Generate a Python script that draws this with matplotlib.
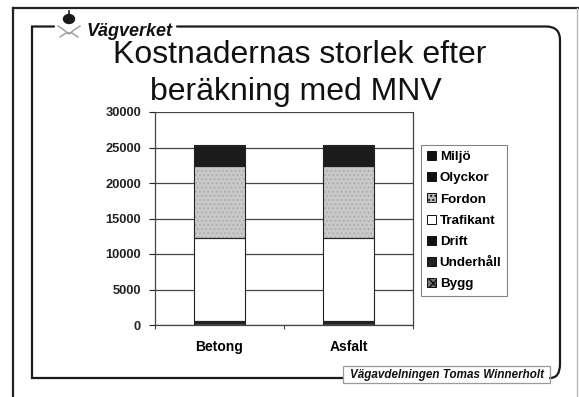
import matplotlib
matplotlib.use("Agg")
import matplotlib.pyplot as plt
import numpy as np
from matplotlib.patches import Patch, Rectangle, Ellipse
from matplotlib.path import Path as MPath
from matplotlib.patches import PathPatch

plt.rcParams["font.family"] = ["Liberation Sans", "DejaVu Sans"]

categories = ["Betong", "Asfalt"]
series = ["Bygg", "Underhåll", "Drift", "Trafikant", "Fordon", "Olyckor", "Miljö"]
bygg = [250, 300]
underhall = [150, 120]
drift = [150, 130]
trafikant = [11750, 11700]
fordon = [10060, 10100]
olyckor = [2800, 2800]
miljo = [200, 200]
yticks = [0, 5000, 10000, 15000, 20000, 25000, 30000]

title_lines = ["Kostnadernas storlek efter", "beräkning med MNV"]

W, H = 579, 397
fig = plt.figure(figsize=(W / 100, H / 100), dpi=100)
fig.patch.set_facecolor("white")

# page frame drawn in pixel coordinates
frame = fig.add_axes([0, 0, 1, 1])
frame.set_xlim(0, W)
frame.set_ylim(H, 0)
frame.axis("off")

frame.plot([13, 579], [7.5, 7.5], color="#222222", lw=1.6)
frame.plot([13, 13], [7.5, 397], color="#222222", lw=1.6)
frame.plot([577, 577], [7.5, 397], color="#bbbbbb", lw=1.0)

def rounded(points, codes):
    return PathPatch(MPath(points, codes), fill=False, lw=1.6, edgecolor="#1a1a1a", capstyle="round")

# left side with rounded top and bottom corners
frame.add_patch(rounded(
    [(54, 26.5), (32, 26.5), (32, 26.5), (32, 44), (32, 366), (32, 378), (32, 378), (46, 378), (343, 378)],
    [MPath.MOVETO, MPath.LINETO, MPath.CURVE3, MPath.CURVE3, MPath.LINETO, MPath.CURVE3, MPath.CURVE3,
     MPath.LINETO, MPath.LINETO]))
# top right and right side down to the signature box
frame.add_patch(rounded(
    [(177, 26.5), (546, 26.5), (560, 26.5), (560, 40), (560, 364), (560, 378), (550, 378)],
    [MPath.MOVETO, MPath.LINETO, MPath.CURVE3, MPath.CURVE3, MPath.LINETO, MPath.CURVE3, MPath.CURVE3]))

# crown emblem
frame.add_patch(Ellipse((69, 19), 11, 9, color="#1a1a1a"))
frame.plot([69, 69], [11, 14.5], color="#1a1a1a", lw=1.2)
frame.plot([58, 64, 69, 74, 80], [26, 30, 34, 30, 26], color="#9a9a9a", lw=1.0)
frame.plot([60, 66, 72, 78], [37, 33, 33, 37], color="#9a9a9a", lw=1.0)
frame.text(87, 36, "Vägverket", fontsize=13, fontweight="bold", fontstyle="italic",
           ha="left", va="baseline", color="#111111")

frame.text(300, 63, title_lines[0], fontsize=23, ha="center", va="baseline", color="#111111")
frame.text(296, 100, title_lines[1], fontsize=23, ha="center", va="baseline", color="#111111")

frame.add_patch(Rectangle((343, 366), 207, 17, fill=False, edgecolor="#9a9a9a", lw=0.9))
frame.text(446.5, 375, "Vägavdelningen Tomas Winnerholt", fontsize=8.4, fontweight="bold",
           fontstyle="italic", ha="center", va="center", color="#111111")

# chart
ax = fig.add_axes([155 / W, 1 - 325 / H, (413 - 155) / W, (325 - 112) / H])
ax.set_facecolor("none")

values = [bygg, underhall, drift, trafikant, fordon, olyckor, miljo]
fills = ["#4a4a4a", "#2a2a2a", "#151515", "#ffffff", "#c9c9c9", "#1c1c1c", "#1c1c1c"]
hatches = [None, None, None, None, "....", None, None]
x = np.arange(len(categories))
bottom = np.zeros(len(categories))
bar_w = 0.4
for name, vals, fc, hatch in zip(series, values, fills, hatches):
    vals = np.asarray(vals, dtype=float)
    ax.bar(x, vals, bar_w, bottom=bottom, color=fc, lw=0, zorder=3)
    if hatch:
        ax.bar(x, vals, bar_w, bottom=bottom, facecolor="none", edgecolor="#b0b0b0",
               hatch=hatch, lw=0, zorder=3.5)
    ax.bar(x, vals, bar_w, bottom=bottom, fill=False, edgecolor="#222222", lw=0.8, zorder=4)
    bottom += vals

ax.set_xlim(-0.5, 1.5)
ax.set_ylim(0, 30000)
ax.set_yticks(yticks)
ax.set_yticklabels([str(v) for v in yticks], fontsize=9.3, fontweight="bold")
ax.yaxis.grid(True, color="#444444", lw=0.9, zorder=0)
ax.tick_params(axis="y", length=4, width=0.8, pad=6, colors="#222222")
ax.set_xticks(x)
ax.set_xticklabels(categories, fontsize=10, fontweight="bold")
ax.set_xticks([-0.5, 0.5, 1.5], minor=True)
ax.tick_params(axis="x", which="major", length=0, pad=11)
ax.tick_params(axis="x", which="minor", length=3, width=0.8, color="#444444")
for side in ["left", "right", "top", "bottom"]:
    ax.spines[side].set_color("#444444")
    ax.spines[side].set_linewidth(0.9)
ax.spines["top"].set_visible(False)

legend_hatch = {"Fordon": "....", "Underhåll": "..", "Bygg": "xx"}
legend_fill = {"Miljö": "#111111", "Olyckor": "#111111", "Fordon": "#bbbbbb", "Trafikant": "#ffffff",
               "Drift": "#111111", "Underhåll": "#222222", "Bygg": "#777777"}
handles = [Patch(facecolor=legend_fill[n], edgecolor="#111111", lw=0.7, hatch=legend_hatch.get(n))
           for n in reversed(series)]
leg = fig.legend(handles, list(reversed(series)), loc="upper left",
                 bbox_to_anchor=(421 / W, 1 - 145 / H), bbox_transform=fig.transFigure,
                 prop={"size": 9.6, "weight": "bold"}, frameon=True, fancybox=False,
                 handlelength=0.65, handleheight=0.65, handletextpad=0.3,
                 labelspacing=0.68, borderpad=0.45, borderaxespad=0)
leg.get_frame().set_edgecolor("#666666")
leg.get_frame().set_linewidth(0.8)

fig.savefig("out.png", dpi=100)
